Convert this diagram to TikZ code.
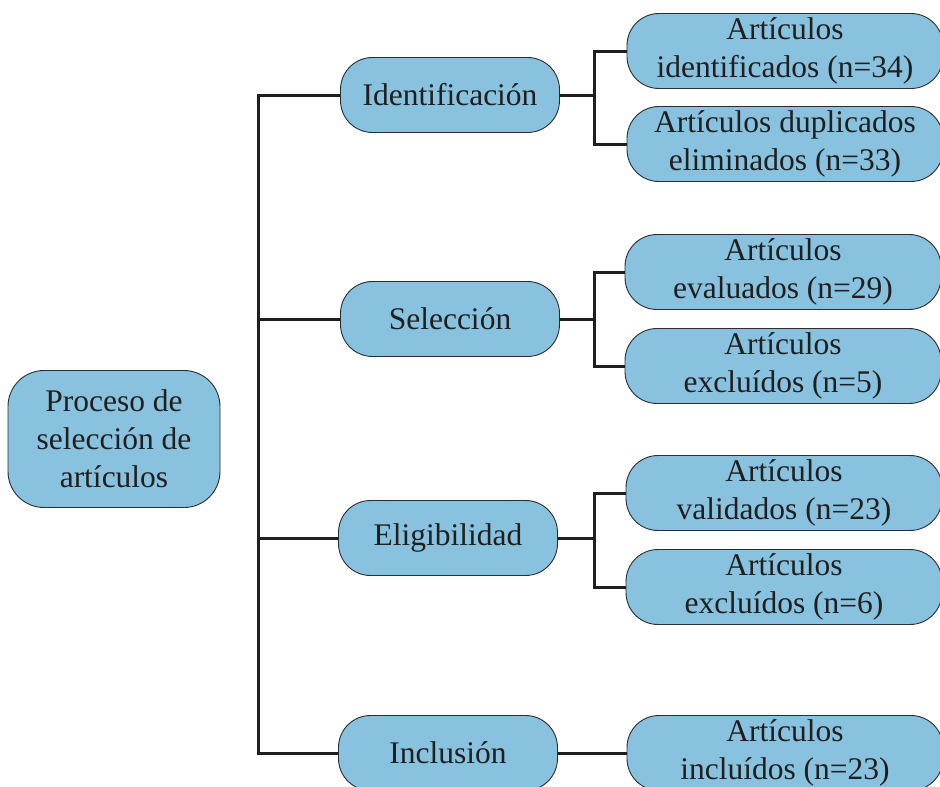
\documentclass[tikz,border=0pt]{standalone}
\usepackage{fontspec}
\setmainfont{Liberation Serif}
\definecolor{boxblue}{RGB}{137,194,223}
\definecolor{edge}{RGB}{45,45,45}
\begin{document}
\begin{tikzpicture}[x=1pt,y=-1pt,
  box/.style={draw=edge, line width=0.9pt, fill=boxblue, rounded corners=32pt,
    align=center, inner sep=0pt, text=black!88,
    font=\fontsize{31.5}{38}\selectfont},
  midbox/.style={box, minimum width=219pt, minimum height=75pt},
  leafbox/.style={box, minimum width=316pt, minimum height=75pt},
  conn/.style={draw=black!88, line width=3pt}]
\useasboundingbox (0,0) rectangle (940,787);
\clip (0,0) rectangle (940,787);
\node[box, minimum width=212pt, minimum height=137pt, rounded corners=36pt] (root) at (114,439) {Proceso de\\selección de\\artículos};
\node[midbox] (ident) at (450,95) {Identificación};
\node[midbox] (sel) at (450,319) {Selección};
\node[midbox] (eleg) at (448,538) {Eligibilidad};
\node[midbox] (incl) at (448,753) {Inclusión};
\node[leafbox] (b1) at (785,51) {Artículos\\identificados (n=34)};
\node[leafbox] (b2) at (785,144) {Artículos duplicados\\eliminados (n=33)};
\node[leafbox] (b3) at (783,272) {Artículos\\evaluados (n=29)};
\node[leafbox] (b4) at (783,366) {Artículos\\excluídos (n=5)};
\node[leafbox] (b5) at (784,493) {Artículos\\validados (n=23)};
\node[leafbox] (b6) at (784,587) {Artículos\\excluídos (n=6)};
\node[leafbox] (b7) at (785,753) {Artículos\\incluídos (n=23)};
\coordinate (tr) at (258,0);
\coordinate (bx) at (594,0);
\draw[conn] (ident.west) -- (ident.west -| tr) -- (incl.west -| tr) -- (incl.west);
\draw[conn] (sel.west) -- (sel.west -| tr);
\draw[conn] (eleg.west) -- (eleg.west -| tr);
\draw[conn] (ident.east) -- (ident.east -| bx);
\draw[conn] (b1.west) -- (b1.west -| bx) -- (b2.west -| bx) -- (b2.west);
\draw[conn] (sel.east) -- (sel.east -| bx);
\draw[conn] (b3.west) -- (b3.west -| bx) -- (b4.west -| bx) -- (b4.west);
\draw[conn] (eleg.east) -- (eleg.east -| bx);
\draw[conn] (b5.west) -- (b5.west -| bx) -- (b6.west -| bx) -- (b6.west);
\draw[conn] (incl.east) -- (b7.west);
\end{tikzpicture}
\end{document}
